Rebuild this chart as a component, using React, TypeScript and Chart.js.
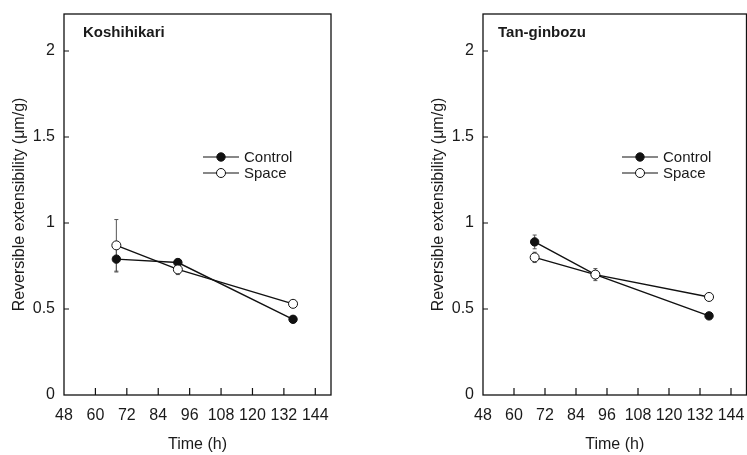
import React, { useEffect, useRef } from "react";
import { Chart, registerables } from "chart.js";

Chart.register(...registerables);

// ---- data ----
const timeHours = [68, 91.5, 135.5];
const xTicks = [48, 60, 72, 84, 96, 108, 120, 132, 144];
const yTicks = [0, 0.5, 1, 1.5, 2];
const seriesLabels = ["Control", "Space"];

const koshiControl = [0.79, 0.77, 0.44];
const koshiControlErr = [0.075, 0.02, 0.01];
const koshiSpace = [0.87, 0.73, 0.53];
const koshiSpaceErr = [0.15, 0.03, 0.02];

const tanControl = [0.89, 0.7, 0.46];
const tanControlErr = [0.04, 0.02, 0.01];
const tanSpace = [0.8, 0.7, 0.57];
const tanSpaceErr = [0.03, 0.035, 0.02];

const panelNames = ["Koshihikari", "Tan-ginbozu"];
const xTitle = "Time (h)";
const yTitle = "Reversible extensibility (\u03bcm/g)";

// ---- styling ----
const FONT = "'Liberation Sans', Arial, Helvetica, sans-serif";
const INK = "#111111";
const TEXT = "#1a1a1a";

const framePlugin = {
  id: "frame",
  beforeDatasetsDraw(chart: any) {
    const ctx = chart.ctx;
    const xs = chart.scales.x;
    const ys = chart.scales.y;
    ctx.save();
    ctx.strokeStyle = "#555555";
    ctx.lineWidth = 1;
    chart.data.datasets.forEach((ds: any) => {
      (ds.data as any[]).forEach((p: any, i: number) => {
        const e = ds.errors[i];
        const px = xs.getPixelForValue(p.x);
        const y1 = ys.getPixelForValue(p.y - e);
        const y2 = ys.getPixelForValue(p.y + e);
        ctx.beginPath();
        ctx.moveTo(px, y1);
        ctx.lineTo(px, y2);
        ctx.moveTo(px - 2, y1);
        ctx.lineTo(px + 2, y1);
        ctx.moveTo(px - 2, y2);
        ctx.lineTo(px + 2, y2);
        ctx.stroke();
      });
    });
    ctx.restore();
  },
  afterDraw(chart: any, _args: any, opts: any) {
    const ctx = chart.ctx;
    const { left, right, top, bottom } = chart.chartArea;
    const xs = chart.scales.x;
    const ys = chart.scales.y;
    ctx.save();
    ctx.strokeStyle = INK;
    ctx.lineWidth = 1.3;
    ctx.strokeRect(left, top, right - left, bottom - top);
    ctx.lineWidth = 1.2;
    ctx.beginPath();
    xs.ticks.forEach((t: any) => {
      const px = xs.getPixelForValue(t.value);
      if (Math.abs(px - left) < 1) return;
      ctx.moveTo(px, bottom);
      ctx.lineTo(px, bottom - 7);
    });
    ys.ticks.forEach((t: any) => {
      const py = ys.getPixelForValue(t.value);
      if (Math.abs(py - bottom) < 1) return;
      ctx.moveTo(left, py);
      ctx.lineTo(left + 5, py);
    });
    ctx.stroke();

    // panel name
    ctx.fillStyle = TEXT;
    ctx.font = `bold 15px ${FONT}`;
    ctx.textAlign = "left";
    ctx.textBaseline = "middle";
    ctx.fillText(opts.name, left + opts.nameDx, top + 19);

    // legend
    const lx = left + 139;
    const ly = top + 143;
    chart.data.datasets.forEach((ds: any, i: number) => {
      const y = ly + i * 16;
      ctx.strokeStyle = INK;
      ctx.lineWidth = 1.2;
      ctx.beginPath();
      ctx.moveTo(lx, y);
      ctx.lineTo(lx + 36, y);
      ctx.stroke();
      ctx.beginPath();
      ctx.arc(lx + 18, y, ds.pointRadius, 0, Math.PI * 2);
      ctx.fillStyle = ds.pointBackgroundColor;
      ctx.fill();
      ctx.lineWidth = 1;
      ctx.stroke();
      ctx.fillStyle = TEXT;
      ctx.font = `15px ${FONT}`;
      ctx.fillText(ds.label, lx + 41, y + 1);
    });
    ctx.restore();
  },
};

function makeDataset(label: string, vals: number[], errs: number[], filled: boolean) {
  return {
    label,
    data: timeHours.map((x, i) => ({ x, y: vals[i] })),
    errors: errs,
    order: filled ? 1 : 0,
    borderColor: INK,
    borderWidth: 1.4,
    pointRadius: filled ? 4.2 : 4.5,
    pointBorderWidth: 1,
    pointBorderColor: INK,
    pointBackgroundColor: filled ? INK : "#ffffff",
    showLine: true,
    fill: false,
    tension: 0,
  };
}

function buildConfig(
  name: string,
  nameDx: number,
  control: number[],
  controlErr: number[],
  space: number[],
  spaceErr: number[],
  padLeft: number,
  padRight: number
): any {
  const tickFont = { family: FONT, size: 16 };
  return {
    type: "scatter",
    data: {
      datasets: [
        makeDataset(seriesLabels[0], control, controlErr, true),
        makeDataset(seriesLabels[1], space, spaceErr, false),
      ],
    },
    plugins: [framePlugin],
    options: {
      responsive: false,
      animation: false,
      devicePixelRatio: 1,
      events: [],
      layout: { padding: { left: padLeft, right: padRight, top: 14, bottom: 0 } },
      plugins: {
        legend: { display: false },
        tooltip: { enabled: false },
        title: { display: false },
        frame: { name, nameDx },
      },
      scales: {
        x: {
          type: "linear",
          min: 48,
          max: 150,
          afterBuildTicks: (s: any) => {
            s.ticks = xTicks.map((v) => ({ value: v }));
          },
          afterFit: (s: any) => {
            s.height = 60;
            s.paddingLeft = 0;
            s.paddingRight = 0;
          },
          grid: { display: false, drawTicks: false },
          border: { display: false },
          ticks: {
            padding: 11,
            font: tickFont,
            color: TEXT,
            maxRotation: 0,
            autoSkip: false,
            callback: (v: any) => String(v),
          },
          title: {
            display: true,
            text: xTitle,
            font: { family: FONT, size: 16 },
            color: TEXT,
            padding: { top: 0, bottom: 1 },
          },
        },
        y: {
          type: "linear",
          min: 0,
          max: 2.215,
          afterBuildTicks: (s: any) => {
            s.ticks = yTicks.map((v) => ({ value: v }));
          },
          afterFit: (s: any) => {
            s.width = 64;
            s.paddingTop = 0;
            s.paddingBottom = 0;
          },
          grid: { display: false, drawTicks: false },
          border: { display: false },
          ticks: {
            padding: 9,
            font: tickFont,
            color: TEXT,
            autoSkip: false,
            callback: (v: any) => String(v),
          },
          title: {
            display: true,
            text: yTitle,
            font: { family: FONT, size: 16 },
            color: TEXT,
            padding: { top: 10, bottom: 0 },
          },
        },
      },
    },
  };
}

function Panel(props: { cfg: () => any; left: number; width: number; height: number }) {
  const ref = useRef<HTMLCanvasElement>(null);
  useEffect(() => {
    const chart = new Chart(ref.current as HTMLCanvasElement, props.cfg());
    return () => chart.destroy();
  }, []);
  return (
    <canvas
      ref={ref}
      width={props.width}
      height={props.height}
      style={{
        position: "absolute",
        left: props.left,
        top: 0,
        width: props.width,
        height: props.height,
        display: "block",
      }}
    />
  );
}

export default function App() {
  return (
    <div
      style={{
        position: "fixed",
        left: 0,
        top: 0,
        width: 747,
        height: 455,
        overflow: "hidden",
        background: "#ffffff",
      }}
    >
      <Panel
        left={0}
        width={400}
        height={455}
        cfg={() =>
          buildConfig(panelNames[0], 19, koshiControl, koshiControlErr, koshiSpace, koshiSpaceErr, 0, 69)
        }
      />
      <Panel
        left={400}
        width={352}
        height={455}
        cfg={() =>
          buildConfig(panelNames[1], 15, tanControl, tanControlErr, tanSpace, tanSpaceErr, 19, 3)
        }
      />
    </div>
  );
}
